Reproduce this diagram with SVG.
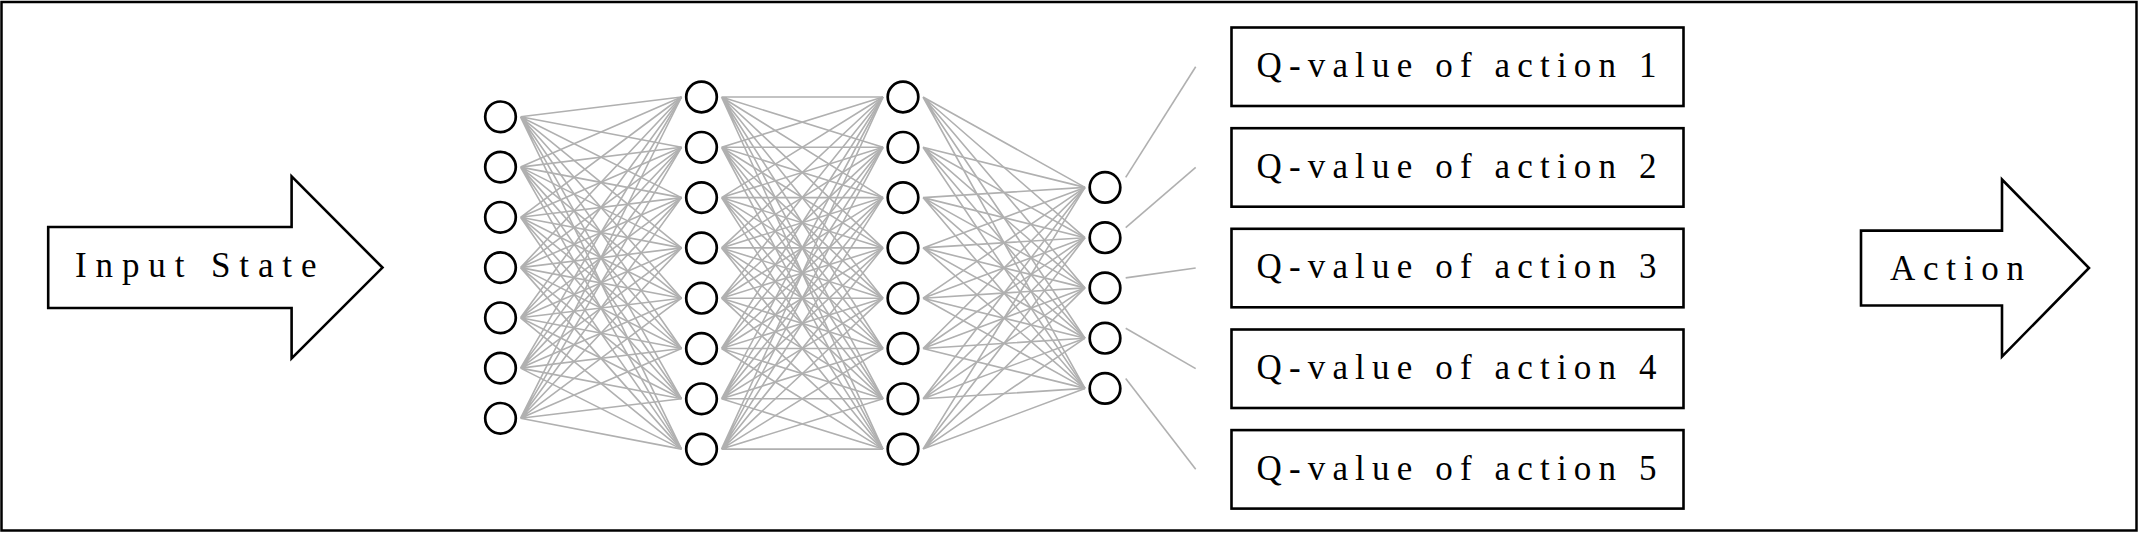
<svg xmlns="http://www.w3.org/2000/svg" width="2139" height="534" viewBox="0 0 2139 534">
<style>
.frame{fill:#fff;stroke:#000;stroke-width:2.5}
.shape{fill:#fff;stroke:#000;stroke-width:2.6;stroke-linejoin:miter}
.n{fill:#fff;stroke:#000;stroke-width:2.7}
.e{fill:none;stroke:#b0b0b0;stroke-width:1.6}
.t{font-family:"Liberation Serif","Times New Roman",serif;font-size:35px;fill:#000}
</style>
<rect class="frame" x="1.5" y="2" width="2135" height="528.5"/>

<g id="connectors">
<path class="e" d="M520.5 116.8L681.5 97M520.5 116.8L681.5 147.3M520.5 116.8L681.5 197.6M520.5 116.8L681.5 247.9M520.5 116.8L681.5 298.2M520.5 116.8L681.5 348.5M520.5 116.8L681.5 398.8M520.5 116.8L681.5 449.1"/>
<path class="e" d="M520.5 167.1L681.5 97M520.5 167.1L681.5 147.3M520.5 167.1L681.5 197.6M520.5 167.1L681.5 247.9M520.5 167.1L681.5 298.2M520.5 167.1L681.5 348.5M520.5 167.1L681.5 398.8M520.5 167.1L681.5 449.1"/>
<path class="e" d="M520.5 217.3L681.5 97M520.5 217.3L681.5 147.3M520.5 217.3L681.5 197.6M520.5 217.3L681.5 247.9M520.5 217.3L681.5 298.2M520.5 217.3L681.5 348.5M520.5 217.3L681.5 398.8M520.5 217.3L681.5 449.1"/>
<path class="e" d="M520.5 267.6L681.5 97M520.5 267.6L681.5 147.3M520.5 267.6L681.5 197.6M520.5 267.6L681.5 247.9M520.5 267.6L681.5 298.2M520.5 267.6L681.5 348.5M520.5 267.6L681.5 398.8M520.5 267.6L681.5 449.1"/>
<path class="e" d="M520.5 317.8L681.5 97M520.5 317.8L681.5 147.3M520.5 317.8L681.5 197.6M520.5 317.8L681.5 247.9M520.5 317.8L681.5 298.2M520.5 317.8L681.5 348.5M520.5 317.8L681.5 398.8M520.5 317.8L681.5 449.1"/>
<path class="e" d="M520.5 368.1L681.5 97M520.5 368.1L681.5 147.3M520.5 368.1L681.5 197.6M520.5 368.1L681.5 247.9M520.5 368.1L681.5 298.2M520.5 368.1L681.5 348.5M520.5 368.1L681.5 398.8M520.5 368.1L681.5 449.1"/>
<path class="e" d="M520.5 418.3L681.5 97M520.5 418.3L681.5 147.3M520.5 418.3L681.5 197.6M520.5 418.3L681.5 247.9M520.5 418.3L681.5 298.2M520.5 418.3L681.5 348.5M520.5 418.3L681.5 398.8M520.5 418.3L681.5 449.1"/>

<path class="e" d="M721.5 97L883 97M721.5 97L883 147.3M721.5 97L883 197.6M721.5 97L883 247.9M721.5 97L883 298.2M721.5 97L883 348.5M721.5 97L883 398.8M721.5 97L883 449.1"/>
<path class="e" d="M721.5 147.3L883 97M721.5 147.3L883 147.3M721.5 147.3L883 197.6M721.5 147.3L883 247.9M721.5 147.3L883 298.2M721.5 147.3L883 348.5M721.5 147.3L883 398.8M721.5 147.3L883 449.1"/>
<path class="e" d="M721.5 197.6L883 97M721.5 197.6L883 147.3M721.5 197.6L883 197.6M721.5 197.6L883 247.9M721.5 197.6L883 298.2M721.5 197.6L883 348.5M721.5 197.6L883 398.8M721.5 197.6L883 449.1"/>
<path class="e" d="M721.5 247.9L883 97M721.5 247.9L883 147.3M721.5 247.9L883 197.6M721.5 247.9L883 247.9M721.5 247.9L883 298.2M721.5 247.9L883 348.5M721.5 247.9L883 398.8M721.5 247.9L883 449.1"/>
<path class="e" d="M721.5 298.2L883 97M721.5 298.2L883 147.3M721.5 298.2L883 197.6M721.5 298.2L883 247.9M721.5 298.2L883 298.2M721.5 298.2L883 348.5M721.5 298.2L883 398.8M721.5 298.2L883 449.1"/>
<path class="e" d="M721.5 348.5L883 97M721.5 348.5L883 147.3M721.5 348.5L883 197.6M721.5 348.5L883 247.9M721.5 348.5L883 298.2M721.5 348.5L883 348.5M721.5 348.5L883 398.8M721.5 348.5L883 449.1"/>
<path class="e" d="M721.5 398.8L883 97M721.5 398.8L883 147.3M721.5 398.8L883 197.6M721.5 398.8L883 247.9M721.5 398.8L883 298.2M721.5 398.8L883 348.5M721.5 398.8L883 398.8M721.5 398.8L883 449.1"/>
<path class="e" d="M721.5 449.1L883 97M721.5 449.1L883 147.3M721.5 449.1L883 197.6M721.5 449.1L883 247.9M721.5 449.1L883 298.2M721.5 449.1L883 348.5M721.5 449.1L883 398.8M721.5 449.1L883 449.1"/>

<path class="e" d="M923 97L1085 187.4M923 97L1085 237.7M923 97L1085 287.9M923 97L1085 338.2M923 97L1085 388.4"/>
<path class="e" d="M923 147.3L1085 187.4M923 147.3L1085 237.7M923 147.3L1085 287.9M923 147.3L1085 338.2M923 147.3L1085 388.4"/>
<path class="e" d="M923 197.6L1085 187.4M923 197.6L1085 237.7M923 197.6L1085 287.9M923 197.6L1085 338.2M923 197.6L1085 388.4"/>
<path class="e" d="M923 247.9L1085 187.4M923 247.9L1085 237.7M923 247.9L1085 287.9M923 247.9L1085 338.2M923 247.9L1085 388.4"/>
<path class="e" d="M923 298.2L1085 187.4M923 298.2L1085 237.7M923 298.2L1085 287.9M923 298.2L1085 338.2M923 298.2L1085 388.4"/>
<path class="e" d="M923 348.5L1085 187.4M923 348.5L1085 237.7M923 348.5L1085 287.9M923 348.5L1085 338.2M923 348.5L1085 388.4"/>
<path class="e" d="M923 398.8L1085 187.4M923 398.8L1085 237.7M923 398.8L1085 287.9M923 398.8L1085 338.2M923 398.8L1085 388.4"/>
<path class="e" d="M923 449.1L1085 187.4M923 449.1L1085 237.7M923 449.1L1085 287.9M923 449.1L1085 338.2M923 449.1L1085 388.4"/>

<path class="e" d="M1125.7 177.4L1195.7 66.8"/>
<path class="e" d="M1125.7 227.7L1195.7 167.4"/>
<path class="e" d="M1125.7 277.9L1195.7 268"/>
<path class="e" d="M1125.7 328.2L1195.7 368.6"/>
<path class="e" d="M1125.7 378.4L1195.7 469.3"/>
</g>

<g id="input-arrow">
<polygon class="shape" points="48.2,227 291.6,227 291.6,176.4 382.5,267.6 291.6,358.4 291.6,308 48.2,308"/>
<text class="t" x="75" y="276.5" textLength="241.5" lengthAdjust="spacing">Input State</text>
</g>

<g id="layer1">
<circle class="n" cx="500.5" cy="116.8" r="15.3"/>
<circle class="n" cx="500.5" cy="167.1" r="15.3"/>
<circle class="n" cx="500.5" cy="217.3" r="15.3"/>
<circle class="n" cx="500.5" cy="267.6" r="15.3"/>
<circle class="n" cx="500.5" cy="317.8" r="15.3"/>
<circle class="n" cx="500.5" cy="368.1" r="15.3"/>
<circle class="n" cx="500.5" cy="418.3" r="15.3"/>
</g>
<g id="layer2">
<circle class="n" cx="701.5" cy="97" r="15.3"/>
<circle class="n" cx="701.5" cy="147.3" r="15.3"/>
<circle class="n" cx="701.5" cy="197.6" r="15.3"/>
<circle class="n" cx="701.5" cy="247.9" r="15.3"/>
<circle class="n" cx="701.5" cy="298.2" r="15.3"/>
<circle class="n" cx="701.5" cy="348.5" r="15.3"/>
<circle class="n" cx="701.5" cy="398.8" r="15.3"/>
<circle class="n" cx="701.5" cy="449.1" r="15.3"/>
</g>
<g id="layer3">
<circle class="n" cx="903" cy="97" r="15.3"/>
<circle class="n" cx="903" cy="147.3" r="15.3"/>
<circle class="n" cx="903" cy="197.6" r="15.3"/>
<circle class="n" cx="903" cy="247.9" r="15.3"/>
<circle class="n" cx="903" cy="298.2" r="15.3"/>
<circle class="n" cx="903" cy="348.5" r="15.3"/>
<circle class="n" cx="903" cy="398.8" r="15.3"/>
<circle class="n" cx="903" cy="449.1" r="15.3"/>
</g>
<g id="layer4">
<circle class="n" cx="1105" cy="187.4" r="15.3"/>
<circle class="n" cx="1105" cy="237.7" r="15.3"/>
<circle class="n" cx="1105" cy="287.9" r="15.3"/>
<circle class="n" cx="1105" cy="338.2" r="15.3"/>
<circle class="n" cx="1105" cy="388.4" r="15.3"/>
</g>

<g id="q1">
<rect class="shape" x="1231.5" y="27.5" width="452" height="78.5"/>
<text class="t" x="1256.5" y="77" textLength="400" lengthAdjust="spacing">Q-value of action 1</text>
</g>
<g id="q2">
<rect class="shape" x="1231.5" y="128.2" width="452" height="78.5"/>
<text class="t" x="1256.5" y="177.7" textLength="400" lengthAdjust="spacing">Q-value of action 2</text>
</g>
<g id="q3">
<rect class="shape" x="1231.5" y="228.8" width="452" height="78.5"/>
<text class="t" x="1256.5" y="278.3" textLength="400" lengthAdjust="spacing">Q-value of action 3</text>
</g>
<g id="q4">
<rect class="shape" x="1231.5" y="329.5" width="452" height="78.5"/>
<text class="t" x="1256.5" y="379" textLength="400" lengthAdjust="spacing">Q-value of action 4</text>
</g>
<g id="q5">
<rect class="shape" x="1231.5" y="430.1" width="452" height="78.5"/>
<text class="t" x="1256.5" y="479.6" textLength="400" lengthAdjust="spacing">Q-value of action 5</text>
</g>

<g id="action-arrow">
<polygon class="shape" points="1861,230.6 2002,230.6 2002,179.5 2089,268 2002,356.6 2002,305.5 1861,305.5"/>
<text class="t" x="1890" y="280" textLength="134" lengthAdjust="spacing">Action</text>
</g>
</svg>
